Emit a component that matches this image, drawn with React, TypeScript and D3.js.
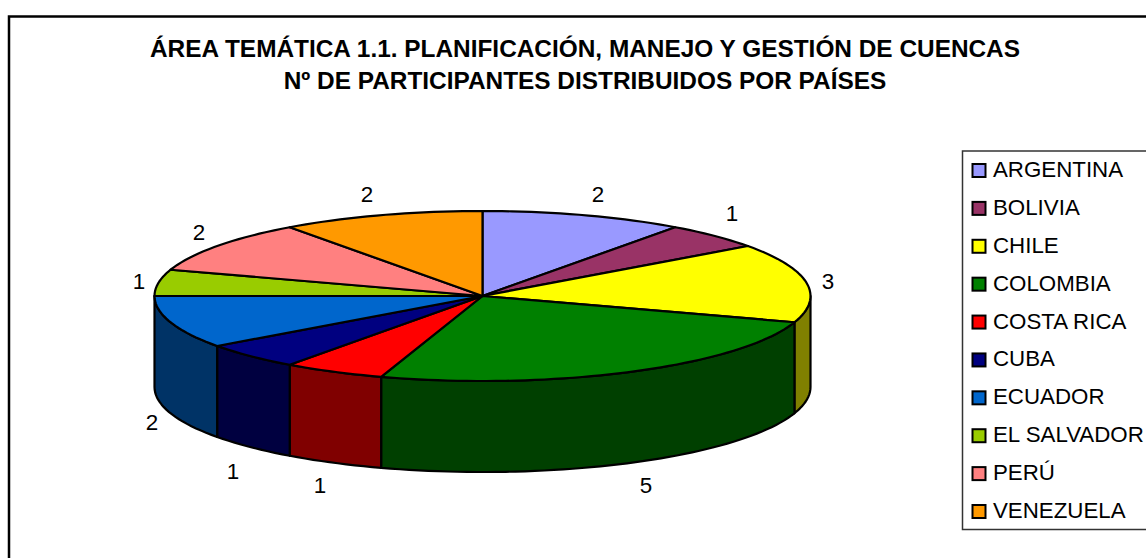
import React from 'react';
import * as d3 from 'd3';

const countries = ['ARGENTINA', 'BOLIVIA', 'CHILE', 'COLOMBIA', 'COSTA RICA', 'CUBA', 'ECUADOR', 'EL SALVADOR', 'PERÚ', 'VENEZUELA'];
const participants = [2, 1, 3, 5, 1, 1, 2, 1, 2, 2];
const colors = ['#9999ff', '#993366', '#ffff00', '#008000', '#ff0000', '#000080', '#0066cc', '#99cc00', '#ff8080', '#ff9900'];
const titleLines = ['ÁREA TEMÁTICA 1.1. PLANIFICACIÓN, MANEJO Y GESTIÓN DE CUENCAS', 'Nº DE PARTICIPANTES DISTRIBUIDOS POR PAÍSES'];
const labelPos: [number, number][] = [[598, 194], [732, 213], [828, 281], [646, 485], [320, 485], [233, 471], [152, 422], [139, 281], [199, 232], [367, 194]];

const cx = 482.5;
const cy = 296;
const rx = 328;
const ry = 85;
const depth = 91;
const font = 'Arial, "Liberation Sans", sans-serif';

const px = (a: number) => cx + rx * Math.sin(a);
const py = (a: number) => cy - ry * Math.cos(a);

// point list along the rim, ellipse arc from a0 to a1
function rim(a0: number, a1: number, dy = 0) {
  const n = Math.max(2, Math.ceil(Math.abs(a1 - a0) / 0.03));
  return d3.range(n + 1).map(i => {
    const a = a0 + (a1 - a0) * i / n;
    return [px(a), py(a) + dy] as [number, number];
  });
}

const line = d3.line();

function darker(c: string) {
  const { r, g, b } = d3.rgb(c);
  return d3.rgb(r / 2, g / 2, b / 2).formatHex();
}

export default function App() {
  const slices = d3.pie<number>().sort(null)(participants);

  // only the front half of the cylinder shows, from 90deg to 270deg
  const walls = slices
    .map((s, i) => ({ a0: Math.max(s.startAngle, Math.PI / 2), a1: Math.min(s.endAngle, 1.5 * Math.PI), i }))
    .filter(w => w.a1 > w.a0);

  const legendY = d3.scalePoint<string>().domain(countries).range([169, 510]);

  return (
    <svg width={1146} height={558} style={{ position: 'absolute', left: 0, top: 0, background: '#fff' }}>
      <rect x={9} y={16.5} width={1160} height={580} fill="#fff" stroke="#000" strokeWidth={2.5} />

      {titleLines.map((t, i) => (
        <text key={t} x={585} y={57 + i * 32} textAnchor="middle" fontFamily={font} fontWeight="bold" fontSize={24.4} fill="#000">{t}</text>
      ))}

      {walls.map(w => (
        <path
          key={w.i}
          d={line([...rim(w.a0, w.a1), ...rim(w.a1, w.a0, depth)])! + 'Z'}
          fill={darker(colors[w.i])}
          stroke="#000"
          strokeWidth={2.2}
          strokeLinejoin="round"
        />
      ))}

      {slices.map((s, i) => (
        <path
          key={countries[i]}
          d={line([[cx, cy], ...rim(s.startAngle, s.endAngle)])! + 'Z'}
          fill={colors[i]}
          stroke="#000"
          strokeWidth={2.2}
          strokeLinejoin="round"
        />
      ))}

      {participants.map((v, i) => (
        <text key={countries[i]} x={labelPos[i][0]} y={labelPos[i][1]} dy="0.36em" textAnchor="middle" fontFamily={font} fontSize={22.4} fill="#000">{v}</text>
      ))}

      <rect x={962.5} y={151} width={200} height={378.5} fill="#fff" stroke="#333" strokeWidth={1.5} />
      {countries.map((c, i) => (
        <g key={c} transform={`translate(0,${legendY(c)})`}>
          <rect x={972.5} y={-5} width={13} height={13} fill={colors[i]} stroke="#000" strokeWidth={2} />
          <text x={993} y={0} dy="0.36em" fontFamily={font} fontSize={22.3} fill="#000">{c}</text>
        </g>
      ))}
    </svg>
  );
}
